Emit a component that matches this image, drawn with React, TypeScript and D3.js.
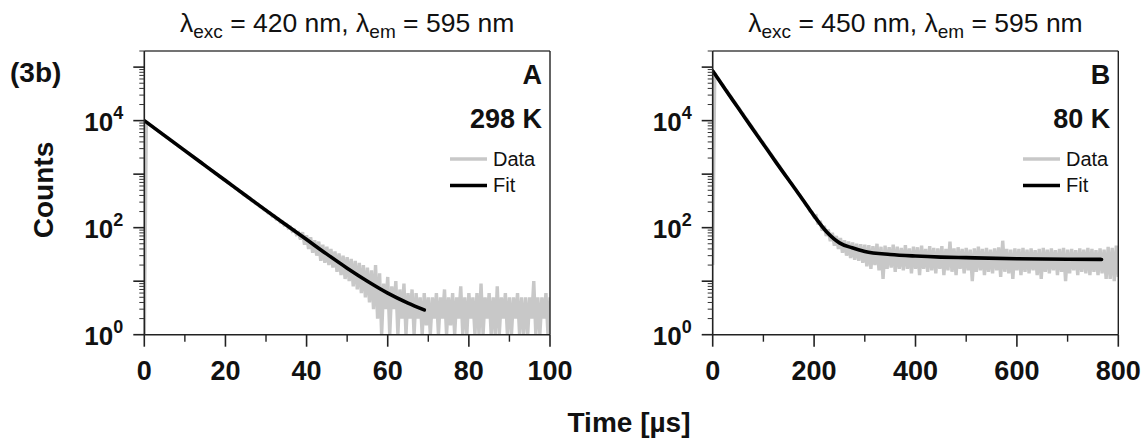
import React from "react";
import * as d3 from "d3";

const FONT = "'Liberation Sans', Arial, Helvetica, sans-serif";
const W = 1148;
const H = 439;

// ---- Panel A (298 K), time step 0.5 µs from 0 to 100 µs ----
const leftStep = 0.5;
const leftCounts = [
  1, 9300, 8850, 8150, 7800, 7150, 6850, 6300, 6020, 5540, 5290, 4870, 4650, 4280, 4090, 3760, 3590, 3300, 3160, 2900,
  2780, 2550, 2440, 2240, 2150, 1970, 1890, 1730, 1660, 1520, 1460, 1335, 1285, 1172, 1130, 1030, 992, 905, 872, 795,
  768, 698, 676, 612, 596, 538, 524, 472, 461, 414, 405, 365, 357, 320, 314, 281, 276, 246, 243, 217,
  214, 190, 189, 166, 167, 146, 147, 128, 130, 112, 115, 98, 102, 86, 90, 75, 80,
  60, 82, 48, 72, 40, 66, 34, 58, 30, 55, 24, 48, 22, 44, 20, 40, 18, 36, 15, 33, 13, 30, 11, 28, 10, 26, 8, 24, 7, 22, 6, 20, 5, 18, 4, 16, 3, 20, 2, 14, 1,
  9, 3, 12, 1, 8, 3, 10, 1, 7, 2, 9, 1, 6, 2, 7, 1, 6, 2, 5, 1, 6, 1.5, 5, 1, 5, 2, 6, 1, 5, 2, 7, 1, 5, 1.5, 6, 1, 5, 2, 8, 1,
  5, 1, 6, 2, 5, 1, 6, 1, 9, 1, 5, 2, 6, 1, 5, 1, 8, 1, 5, 2, 6, 1, 5, 1, 5, 2, 6, 1, 5, 1, 5, 1, 5, 2, 10, 1, 5, 1, 5, 2, 6, 1, 5,
];
const leftFitT = [0, 5, 10, 15, 20, 25, 30, 35, 40, 45, 50, 55, 60, 65, 69];
const leftFitCounts = [10000, 5250, 2750, 1445, 760, 400, 210, 112, 60, 32, 17.5, 10, 6, 3.9, 2.9];
const leftXTicks = [0, 20, 40, 60, 80, 100];
const leftXMinor = [10, 30, 50, 70, 90];

// ---- Panel B (80 K), time step 4 µs from 0 to 800 µs ----
const rightStep = 4;
const rightCounts = [
  20,
  76500, 65000, 59300, 50800, 46200, 39500, 36000, 30800, 28000, 24000, 21900, 18700, 17000, 14550, 13250, 11300, 10320, 8830, 8040, 6880,
  6260, 5360, 4880, 4170, 3800, 3250, 2960, 2530, 2310, 1970, 1800, 1535, 1400, 1195, 1090, 930, 850, 724, 662, 563,
  516, 438, 403, 340, 314, 264, 246, 204, 193, 158,
  165, 115, 134, 88, 108, 70, 92, 56, 80, 46, 70, 40, 64, 34, 58, 30, 55, 27, 53, 25, 50, 24, 49, 22, 48,
  19, 47, 17, 45, 20, 50, 16, 44, 11, 46,
  17, 43, 18, 48, 15, 44, 17, 42, 16, 47,
  17, 41, 14, 44, 17, 43, 13, 46, 17, 40,
  15, 45, 16, 42, 14, 41, 17, 45, 13, 40,
  16, 55, 15, 41, 13, 43, 17, 40, 14, 42,
  16, 39, 10, 41, 15, 44, 16, 40, 13, 42,
  15, 39, 14, 41, 16, 43, 12, 57, 15, 40,
  14, 39, 11, 41, 16, 40, 13, 42, 15, 39,
  14, 41, 16, 38, 13, 40, 11, 42, 15, 39,
  14, 41, 16, 38, 13, 40, 15, 42, 10, 39,
  14, 40, 16, 38, 13, 41, 15, 39, 14, 42,
  13, 40, 15, 38, 13, 41, 14, 39, 11, 44,
  11, 42, 10, 46, 12,
];
const rightFitT = [0, 25, 50, 75, 100, 125, 150, 175, 200, 225, 250, 275, 300, 350, 400, 450, 500, 600, 700, 767];
const rightFitCounts = [85000, 38000, 17400, 7900, 3630, 1660, 776, 363, 166, 83, 52, 42, 36, 31.6, 29.5, 28.2, 27.5, 26.3, 25.7, 25.5];
const rightXTicks = [0, 200, 400, 600, 800];
const rightXMinor = [100, 300, 500, 700];

const yLabelExps = [0, 2, 4];
const yMajorExps = [0, 1, 2, 3, 4, 5];
const yDomain = [1, 2e5];

const DATA_COLOR = "#c8c8c8";
const FIT_COLOR = "#000000";

const TOP = 51;
const BOTTOM = 334.7;

type PanelProps = {
  id: string;
  x0: number;
  x1: number;
  xMax: number;
  xTicks: number[];
  xMinor: number[];
  counts: number[];
  step: number;
  fitT: number[];
  fitC: number[];
  exc: string;
  letter: string;
  temp: string;
  legendLineX: number;
};

function Panel(p: PanelProps) {
  const x = d3.scaleLinear().domain([0, p.xMax]).range([p.x0, p.x1]);
  const y = d3.scaleLog().domain(yDomain).range([BOTTOM, TOP]);
  const dataLine = d3
    .line<number>()
    .x((_, i) => x(i * p.step))
    .y((d) => y(Math.max(d, 1)));
  const fitLine = d3
    .line<number>()
    .x((_, i) => x(p.fitT[i]))
    .y((d) => y(d))
    .curve(d3.curveMonotoneX);

  const minor: number[] = [];
  for (let e = 0; e < 6; e++) {
    for (let m = 2; m <= 9; m++) {
      const v = m * Math.pow(10, e);
      if (v <= yDomain[1]) minor.push(v);
    }
  }
  const cx = (p.x0 + p.x1) / 2;
  const rightText = p.x1 - 8;

  return (
    <g>
      <defs>
        <clipPath id={p.id}>
          <rect x={p.x0} y={TOP} width={p.x1 - p.x0} height={BOTTOM - TOP} />
        </clipPath>
      </defs>
      {/* title */}
      <text x={cx} y={32} textAnchor="middle" fontSize={26.5} fontFamily={FONT} fill="#111">
        <tspan>λ</tspan>
        <tspan dy={6} fontSize={19}>exc</tspan>
        <tspan dy={-6}>{" = " + p.exc + " nm, λ"}</tspan>
        <tspan dy={6} fontSize={19}>em</tspan>
        <tspan dy={-6}>{" = 595 nm"}</tspan>
      </text>
      {/* data */}
      <g clipPath={`url(#${p.id})`}>
        <path d={dataLine(p.counts) || ""} fill="none" stroke={DATA_COLOR} strokeWidth={3.4} strokeLinejoin="miter" strokeMiterlimit={2} />
        <path d={fitLine(p.fitC) || ""} fill="none" stroke={FIT_COLOR} strokeWidth={3.6} strokeLinecap="round" />
      </g>
      {/* frame */}
      <line x1={p.x0} x2={p.x1} y1={TOP} y2={TOP} stroke="#444" strokeWidth={1.4} />
      <line x1={p.x1} x2={p.x1} y1={TOP} y2={BOTTOM} stroke="#222" strokeWidth={1.4} />
      <line x1={p.x0} x2={p.x0} y1={TOP} y2={BOTTOM} stroke="#222" strokeWidth={1.6} />
      <line x1={p.x0} x2={p.x1} y1={BOTTOM} y2={BOTTOM} stroke="#222" strokeWidth={1.6} />
      {/* y ticks */}
      {yMajorExps.map((e) => (
        <line key={"ym" + e} x1={p.x0 - 11} x2={p.x0} y1={y(Math.pow(10, e))} y2={y(Math.pow(10, e))} stroke="#222" strokeWidth={1.6} />
      ))}
      {minor.map((v) => (
        <line key={"yn" + v} x1={p.x0 - 5} x2={p.x0} y1={y(v)} y2={y(v)} stroke="#333" strokeWidth={1} />
      ))}
      {yLabelExps.map((e) => (
        <text key={"yl" + e} x={p.x0 - 21} y={y(Math.pow(10, e)) + 10} textAnchor="end" fontSize={26} fontWeight="bold" fontFamily={FONT} fill="#111">
          <tspan>10</tspan>
          <tspan dy={-12} fontSize={18}>{String(e)}</tspan>
        </text>
      ))}
      {/* x ticks */}
      {p.xTicks.map((t) => (
        <g key={"xt" + t}>
          <line x1={x(t)} x2={x(t)} y1={BOTTOM} y2={BOTTOM + 12} stroke="#222" strokeWidth={1.6} />
          <text x={x(t)} y={380} textAnchor="middle" fontSize={27} fontWeight="bold" fontFamily={FONT} fill="#111">
            {String(t)}
          </text>
        </g>
      ))}
      {p.xMinor.map((t) => (
        <line key={"xn" + t} x1={x(t)} x2={x(t)} y1={BOTTOM} y2={BOTTOM + 7} stroke="#222" strokeWidth={1.4} />
      ))}
      {/* panel letter and temperature */}
      <text x={rightText} y={84} textAnchor="end" fontSize={27} fontWeight="bold" fontFamily={FONT} fill="#111">
        {p.letter}
      </text>
      <text x={rightText} y={128} textAnchor="end" fontSize={27} fontWeight="bold" fontFamily={FONT} fill="#111">
        {p.temp}
      </text>
      {/* legend */}
      <line x1={p.legendLineX} x2={p.legendLineX + 37} y1={159} y2={159} stroke={DATA_COLOR} strokeWidth={3.5} />
      <text x={p.legendLineX + 43} y={165.5} fontSize={20} fontFamily={FONT} fill="#111">Data</text>
      <line x1={p.legendLineX} x2={p.legendLineX + 37} y1={185.5} y2={185.5} stroke={FIT_COLOR} strokeWidth={3.5} />
      <text x={p.legendLineX + 43} y={191.5} fontSize={20} fontFamily={FONT} fill="#111">Fit</text>
    </g>
  );
}

export default function App() {
  return (
    <svg
      width={W}
      height={H}
      viewBox={`0 0 ${W} ${H}`}
      style={{ position: "absolute", left: 0, top: 0, background: "#fff" }}
    >
      <rect x={0} y={0} width={W} height={H} fill="#fff" />
      <text x={10} y={82} fontSize={28} fontWeight="bold" fontFamily={FONT} fill="#111">(3b)</text>
      <text transform="translate(53,190) rotate(-90)" textAnchor="middle" fontSize={28} fontWeight="bold" fontFamily={FONT} fill="#111">
        Counts
      </text>
      <Panel
        id="clipA"
        x0={144.3}
        x1={550}
        xMax={100}
        xTicks={leftXTicks}
        xMinor={leftXMinor}
        counts={leftCounts}
        step={leftStep}
        fitT={leftFitT}
        fitC={leftFitCounts}
        exc="420"
        letter="A"
        temp="298 K"
        legendLineX={450}
      />
      <Panel
        id="clipB"
        x0={712.7}
        x1={1118.3}
        xMax={800}
        xTicks={rightXTicks}
        xMinor={rightXMinor}
        counts={rightCounts}
        step={rightStep}
        fitT={rightFitT}
        fitC={rightFitCounts}
        exc="450"
        letter="B"
        temp="80 K"
        legendLineX={1023}
      />
      <text x={629} y={432} textAnchor="middle" fontSize={28} fontWeight="bold" fontFamily={FONT} fill="#111">
        Time [µs]
      </text>
    </svg>
  );
}
